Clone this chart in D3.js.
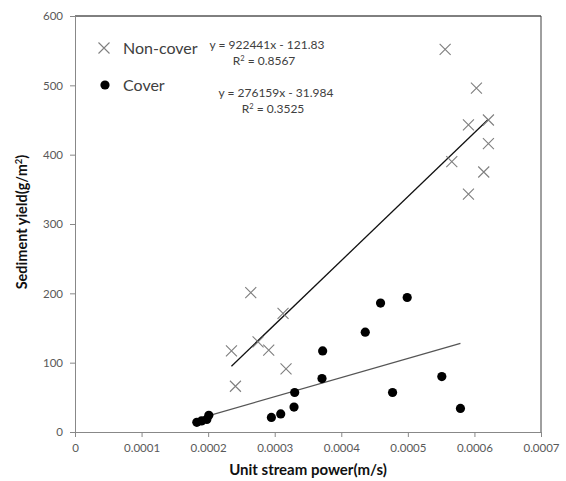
<!DOCTYPE html>
<html>
<head>
<meta charset="utf-8">
<script src="https://cdn.jsdelivr.net/npm/d3@7"></script>
<style>
  body { margin: 0; background: #fff; }
  text { font-family: Lato, "Open Sans", sans-serif; }
</style>
</head>
<body>
<svg width="566" height="481"></svg>
<script>
// non-cover plots (x markers)
const nonCoverX = [0.000556, 0.000603, 0.000591, 0.000621, 0.000621, 0.000566, 0.000614, 0.000591,
                   0.000264, 0.0003125, 0.000235, 0.000275, 0.000291, 0.000317, 0.000241]
const nonCoverY = [552, 496, 443, 450, 416, 390, 375, 343, 201, 171, 117, 130, 118, 91, 66]

// cover plots (dots)
const coverX = [0.000183, 0.00019, 0.000198, 0.000201, 0.000295, 0.000309, 0.000329, 0.00033,
                0.000371, 0.000372, 0.000459, 0.000499, 0.000436, 0.000551, 0.000477, 0.000579]
const coverY = [14, 16, 18, 24, 21, 26, 36, 57, 77, 117, 186, 194, 144, 80, 57, 34]

// trend lines from the chart
const fitNonCover = { slope: 922441, intercept: -121.83 }
const fitCover = { slope: 276159, intercept: -31.984 }

const xTicks = [0, 0.0001, 0.0002, 0.0003, 0.0004, 0.0005, 0.0006, 0.0007]
const yTicks = [0, 100, 200, 300, 400, 500, 600]

const svg = d3.select("svg")

const plotLeft = 75, plotRight = 541, plotTop = 16, plotBottom = 432

const x = d3.scaleLinear().domain([0, 0.0007]).range([plotLeft, plotRight])
const y = d3.scaleLinear().domain([0, 600]).range([plotBottom, plotTop])

// plot area border (top and right)
svg.append("line").attr("x1", plotLeft).attr("x2", plotRight).attr("y1", plotTop).attr("y2", plotTop)
    .attr("stroke", "#000").attr("stroke-width", 1)
svg.append("line").attr("x1", plotRight).attr("x2", plotRight).attr("y1", plotTop).attr("y2", plotBottom)
    .attr("stroke", "#404040").attr("stroke-width", 1)

svg.append("g")
    .attr("transform", "translate(0," + plotBottom + ")")
    .call(d3.axisBottom(x).tickValues(xTicks).tickSize(5).tickPadding(7)
        .tickFormat(d => d === 0 ? "0" : d.toFixed(4)))

svg.append("g")
    .attr("transform", "translate(" + plotLeft + ",0)")
    .call(d3.axisLeft(y).tickValues(yTicks).tickSize(5).tickPadding(7))

svg.selectAll(".domain").attr("stroke", "#888")
svg.selectAll(".tick line").attr("stroke", "#888")
svg.selectAll(".tick text").attr("fill", "#595959").style("font-size", "11.5px")
    .style("font-family", "Lato, 'Open Sans', sans-serif")

// trend lines, drawn over the range of each series
function trend(xs, fit, color) {
    const x0 = d3.min(xs), x1 = d3.max(xs)
    svg.append("line")
        .attr("x1", x(x0)).attr("y1", y(fit.slope * x0 + fit.intercept))
        .attr("x2", x(x1)).attr("y2", y(fit.slope * x1 + fit.intercept))
        .attr("stroke", color).attr("stroke-width", 1.3)
}
trend(nonCoverX, fitNonCover, "#111")
trend(coverX, fitCover, "#555")

function crossPath(cx, cy, s) {
    return `M${cx - s},${cy - s}L${cx + s},${cy + s}M${cx - s},${cy + s}L${cx + s},${cy - s}`
}

svg.selectAll(".nc")
    .data(nonCoverX)
    .enter()
    .append("path")
    .attr("class", "nc")
    .attr("d", (d, i) => crossPath(x(d), y(nonCoverY[i]), 5.5))
    .attr("stroke", "#7f7f7f")
    .attr("stroke-width", 1.1)
    .attr("fill", "none")

svg.selectAll(".cv")
    .data(coverX)
    .enter()
    .append("circle")
    .attr("class", "cv")
    .attr("cx", d => x(d))
    .attr("cy", (d, i) => y(coverY[i]))
    .attr("r", 4.6)
    .attr("fill", "#000")

// legend
const lx = 104, ly1 = 48, ly2 = 85
svg.append("path")
    .attr("d", crossPath(lx, ly1, 5.5))
    .attr("stroke", "#7f7f7f").attr("stroke-width", 1.1)
svg.append("circle").attr("cx", lx + 1).attr("cy", ly2).attr("r", 4.6).attr("fill", "#000")
svg.append("text").attr("x", 123).attr("y", ly1 + 6).text("Non-cover")
    .attr("fill", "#404040").style("font-size", "16px")
svg.append("text").attr("x", 123).attr("y", ly2 + 6).text("Cover")
    .attr("fill", "#404040").style("font-size", "16px")

// equations
function eq(cx, cy, fit, r2) {
    svg.append("text").attr("text-anchor", "middle").attr("fill", "#404040").style("font-size", "12px")
        .attr("x", cx).attr("y", cy)
        .text("y = " + fit.slope + "x - " + Math.abs(fit.intercept))
    const t2 = svg.append("text").attr("text-anchor", "middle").attr("fill", "#404040").style("font-size", "12px")
        .attr("x", cx - 3).attr("y", cy + 16)
    t2.append("tspan").text("R")
    t2.append("tspan").attr("dy", -4).style("font-size", "7.5px").text("2")
    t2.append("tspan").attr("dy", 4).text(" = " + r2)
}
eq(267, 49, fitNonCover, "0.8567")
eq(276, 97, fitCover, "0.3525")

// axis titles
svg.append("text")
    .attr("x", 308).attr("y", 475)
    .attr("text-anchor", "middle")
    .style("font-size", "15px").style("font-weight", "bold")
    .attr("fill", "#111")
    .text("Unit stream power(m/s)")

const yt = svg.append("text")
    .attr("transform", "translate(27,222) rotate(-90)")
    .attr("text-anchor", "middle")
    .style("font-size", "14.5px").style("font-weight", "bold")
    .attr("fill", "#111")
yt.append("tspan").text("Sediment yield(g/m")
yt.append("tspan").attr("dy", -5).style("font-size", "9.5px").text("2")
yt.append("tspan").attr("dy", 5).text(")")
</script>
</body>
</html>
